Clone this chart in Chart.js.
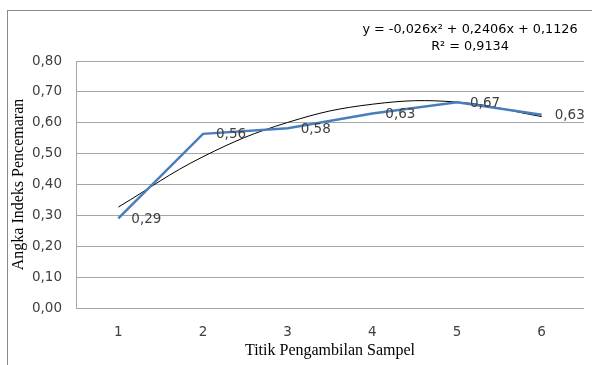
<!DOCTYPE html>
<html>
<head>
<meta charset="utf-8">
<script src="https://cdn.jsdelivr.net/npm/chart.js@4.4.0/dist/chart.umd.min.js"></script>
<style>
html,body{margin:0;padding:0;background:#fff;}
#wrap{width:592px;height:365px;position:relative;}
</style>
</head>
<body>
<div id="wrap"><canvas id="c" width="592" height="365"></canvas></div>
<script>
const categories = ['1','2','3','4','5','6'];
const pollutionIndex = [0.29, 0.564, 0.582, 0.63, 0.666, 0.626];
const trendValues = [0.327, 0.490, 0.601, 0.660, 0.667, 0.620];
const yTicks = [0,0.1,0.2,0.3,0.4,0.5,0.6,0.7,0.8];
const equationLines = ['y = -0,026x² + 0,2406x + 0,1126', 'R² = 0,9134'];
const xTitle = 'Titik Pengambilan Sampel';
const yTitle = 'Angka Indeks Pencemaran';

const fmt = v => v.toFixed(2).replace('.', ',');

const decor = {
  id: 'decor',
  beforeDraw(chart) {
    const ctx = chart.ctx;
    ctx.save();
    ctx.fillStyle = '#fff';
    ctx.fillRect(0, 0, chart.width, chart.height);
    ctx.strokeStyle = '#8a8a8a';
    ctx.lineWidth = 1;
    ctx.strokeRect(7.5, 10.5, 700, 500);
    ctx.restore();
  },
  afterDatasetsDraw(chart) {
    const ctx = chart.ctx;
    ctx.save();
    ctx.font = '13.5px "DejaVu Sans"';
    ctx.fillStyle = '#404040';
    ctx.textAlign = 'left';
    ctx.textBaseline = 'middle';
    const meta = chart.getDatasetMeta(0);
    meta.data.forEach((pt, i) => {
      ctx.fillText(fmt(pollutionIndex[i]), pt.x + 13, pt.y + 1);
    });
    ctx.font = '12.8px "DejaVu Sans"';
    ctx.fillStyle = '#000';
    ctx.textAlign = 'center';
    ctx.fillText(equationLines[0], 470, 30);
    ctx.fillText(equationLines[1], 470, 47);
    ctx.restore();
  }
};

new Chart(document.getElementById('c'), {
  type: 'line',
  data: {
    labels: categories,
    datasets: [
      {
        data: pollutionIndex,
        borderColor: '#4a7ebb',
        borderWidth: 2.5,
        pointRadius: 0,
        tension: 0,
        fill: false
      },
      {
        data: trendValues,
        borderColor: '#000',
        borderWidth: 1,
        pointRadius: 0,
        tension: 0.4,
        fill: false
      }
    ]
  },
  options: {
    responsive: false,
    animation: false,
    devicePixelRatio: 1,
    layout: { padding: { left: 8, right: 8, top: 61, bottom: 2 } },
    plugins: { legend: { display: false }, tooltip: { enabled: false } },
    scales: {
      x: {
        offset: true,
        grid: { display: false, drawTicks: false },
        border: { display: false },
        ticks: { color: '#404040', font: { family: 'DejaVu Sans', size: 13.5 }, padding: 16, maxRotation: 0 },
        title: { display: true, text: xTitle, color: '#000', font: { family: 'Liberation Serif', size: 16 }, padding: { top: 2, bottom: 3 } },
        afterFit(s) { s.height = 55; }
      },
      y: {
        min: 0, max: 0.8,
        afterBuildTicks(s) { s.ticks = yTicks.map(v => ({ value: v })); },
        grid: { color: '#a6a6a6', lineWidth: 1, drawTicks: false },
        border: { display: true, color: '#a6a6a6', width: 1 },
        ticks: { color: '#404040', font: { family: 'DejaVu Sans', size: 13.5 }, padding: 14, callback: v => fmt(v) },
        title: { display: true, text: yTitle, color: '#000', font: { family: 'Liberation Serif', size: 16 }, padding: { top: 1, bottom: 2 } },
        afterFit(s) { s.width = 68; }
      }
    }
  },
  plugins: [decor]
});
</script>
</body>
</html>
